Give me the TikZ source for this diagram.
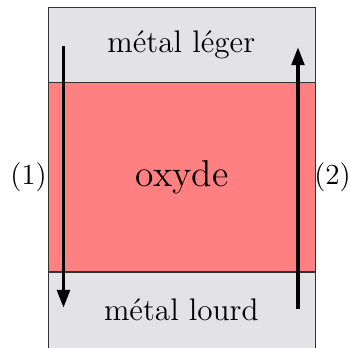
\documentclass[tikz,border=0pt]{standalone}
\usetikzlibrary{positioning,arrows.meta}
\definecolor{metal}{HTML}{E3E2E7}
\definecolor{oxide}{HTML}{FF8080}
\definecolor{edge}{HTML}{333333}

\begin{document}
\begin{tikzpicture}[x=1cm,y=1cm,
    flow/.style={line width=1.5pt,-{Triangle[length=7pt,width=4.8pt]}},
    mark label/.style={inner sep=0pt,font=\fontsize{11.2}{13}\selectfont}]
  \useasboundingbox (0,0) rectangle (4.73,4.69);
  \fill[metal] (.655,3.574) rectangle (4.264,4.588);
  \fill[oxide] (.655,1.014) rectangle (4.264,3.574);
  \fill[metal] (.655,-.05) rectangle (4.264,1.014);
  \draw[edge] (.655,-.05) rectangle (4.264,4.588);
  \draw[edge] (.655,3.574) -- (4.264,3.574);
  \draw[edge] (.655,1.014) -- (4.264,1.014);
  \node[font=\large] (light) at (2.45,4.08) {métal léger};
  \node[font=\Large] (oxyde) at (2.46,2.3) {oxyde};
  \node[font=\large] (heavy) at (2.45,.5) {métal lourd};
  \node[mark label,anchor=east] (one) at (.64,2.3) {(1)};
  \node[mark label,anchor=west] (two) at (4.24,2.3) {(2)};
  \coordinate (downA) at (.858,4.068);
  \coordinate (downB) at (.858,.527);
  \coordinate (upA) at (4.027,.514);
  \coordinate (upB) at (4.027,4.054);
  \draw[flow] (downA) -- (downB);
  \draw[flow] (upA) -- (upB);
\end{tikzpicture}
\end{document}
